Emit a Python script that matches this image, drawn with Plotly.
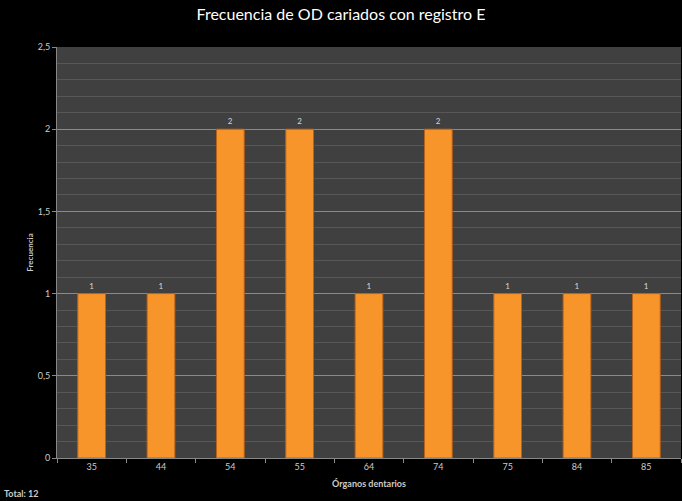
import plotly.graph_objects as go

categories = ["35", "44", "54", "55", "64", "74", "75", "84", "85"]
values = [1, 1, 2, 2, 1, 2, 1, 1, 1]
title_text = "Frecuencia de OD cariados con registro E"
x_title = "Órganos dentarios"
y_title = "Frecuencia"
total_text = "Total: 12"

fig = go.Figure()
fig.add_trace(go.Bar(
    x=categories, y=values,
    marker=dict(color="#F7952A", line=dict(color="#B8621A", width=1)),
    text=[str(v) for v in values], textposition="outside",
    textfont=dict(color="#D8D8D8", size=8, family="Lato"),
    cliponaxis=False,
))

fig.update_layout(
    width=682, height=501,
    margin=dict(l=57, r=1, t=47, b=43),
    paper_bgcolor="#000000", plot_bgcolor="#404040",
    bargap=0.6,
    showlegend=False,
    title=dict(text=title_text, x=0.5, xanchor="center", y=0.972, yanchor="middle",
               font=dict(family="Lato", size=16, color="#FFFFFF")),
    font=dict(family="Lato", color="#CCCCCC"),
    xaxis=dict(type="category", tickson="boundaries", ticks="outside", ticklen=4,
               tickcolor="#888888", showgrid=False, showline=True, linecolor="#888888",
               tickfont=dict(size=9, color="#CCCCCC"),
               title=dict(text="<b>" + x_title + "</b>", font=dict(size=9, color="#CCCCCC"), standoff=9)),
    yaxis=dict(range=[0, 2.5], tickvals=[0, 0.5, 1, 1.5, 2, 2.5],
               ticktext=["0", "0,5", "1", "1,5", "2", "2,5"],
               ticks="outside", ticklen=4, tickcolor="#888888",
               showgrid=True, gridcolor="#8A8A8A", gridwidth=1,
               minor=dict(dtick=0.1, showgrid=True, gridcolor="#575757", gridwidth=1, tick0=0),
               zeroline=False, showline=True, linecolor="#888888",
               tickfont=dict(size=9, color="#CCCCCC"),
               title=dict(text="<b>" + y_title + "</b>", font=dict(size=8, color="#CCCCCC"), standoff=2)),
    annotations=[dict(text="<b>" + total_text + "</b>", xref="paper", yref="paper", x=-55/624, y=-35/411,
                      xanchor="left", yanchor="middle", showarrow=False,
                      font=dict(size=9, color="#CCCCCC", family="Lato"))],
)

fig.write_html("out.html")
